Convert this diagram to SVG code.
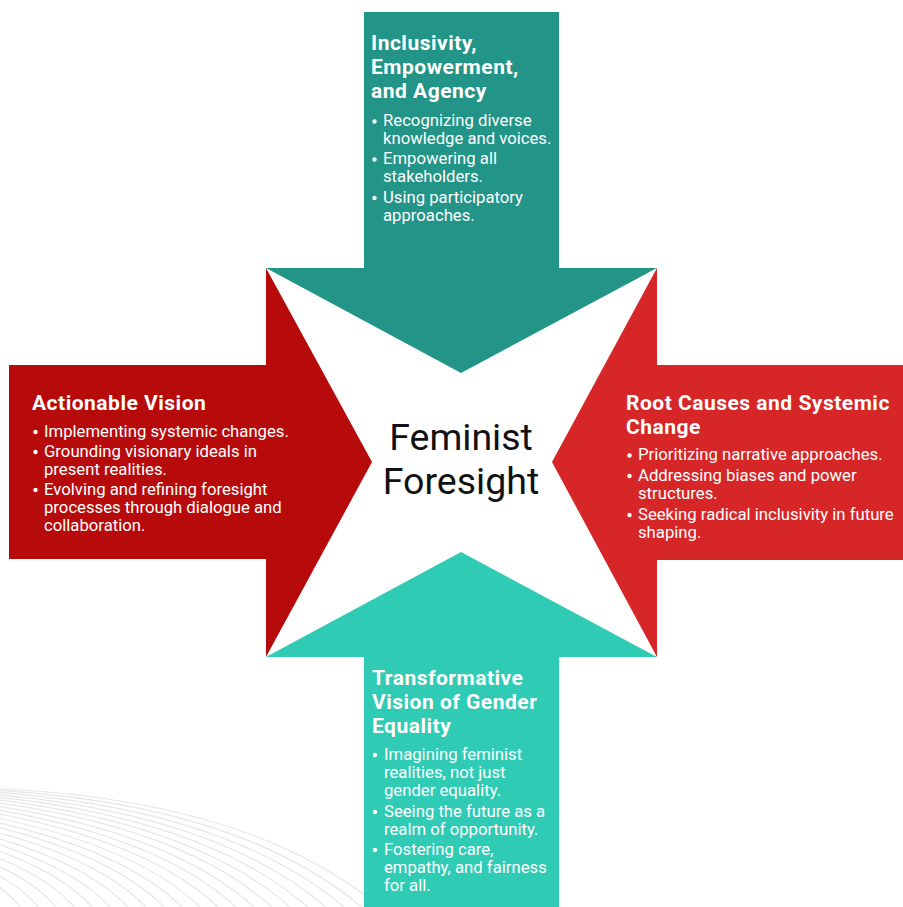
<svg xmlns="http://www.w3.org/2000/svg" width="903" height="907" viewBox="0 0 903 907">
<style>
.bg{fill:none;stroke:#e6e6e6;stroke-width:1.2}
.t{font-family:Roboto,"Liberation Sans",sans-serif;font-size:21px;font-weight:bold;letter-spacing:0.5px;fill:#fff}
.b{font-family:Roboto,"Liberation Sans",sans-serif;font-size:16.7px;fill:#fff}
.c{font-family:Roboto,"Liberation Sans",sans-serif;font-size:37.5px;fill:#111;text-anchor:middle}
.d{fill:#fff}
</style>
<rect width="903" height="907" fill="#fff"/>
<g id="background">
<path class="bg" d="M0 789 Q250 800 380 907"/>
<path class="bg" d="M-15 789.8 Q236 802 362 907"/>
<path class="bg" d="M-30 790.6 Q222 804 344 907"/>
<path class="bg" d="M-45 791.4 Q208 806 326 907"/>
<path class="bg" d="M-60 792.2 Q194 808 308 907"/>
<path class="bg" d="M-75 793 Q180 810 290 907"/>
<path class="bg" d="M-90 793.8 Q166 812 272 907"/>
<path class="bg" d="M-105 794.6 Q152 814 254 907"/>
<path class="bg" d="M-120 795.4 Q138 816 236 907"/>
<path class="bg" d="M-135 796.2 Q124 818 218 907"/>
<path class="bg" d="M-150 797 Q110 820 200 907"/>
<path class="bg" d="M-165 797.8 Q96 822 182 907"/>
<path class="bg" d="M-180 798.6 Q82 824 164 907"/>
<path class="bg" d="M-195 799.4 Q68 826 146 907"/>
<path class="bg" d="M-210 800.2 Q54 828 128 907"/>
<path class="bg" d="M-225 801 Q40 830 110 907"/>
<path class="bg" d="M-240 801.8 Q26 832 92 907"/>
<path class="bg" d="M-255 802.6 Q12 834 74 907"/>
<path class="bg" d="M-270 803.4 Q-2 836 56 907"/>
<path class="bg" d="M-285 804.2 Q-16 838 38 907"/>
<path class="bg" d="M-300 805 Q-30 840 20 907"/>
</g>
<g id="top">
<polygon points="364,12 559,12 559,268 657,268 461,373 266,268 364,268" fill="#229488"/>
<text class="t" x="371" y="50">Inclusivity,</text>
<text class="t" x="371" y="74">Empowerment,</text>
<text class="t" x="371" y="98">and Agency</text>
<circle class="d" cx="374.5" cy="121.5" r="2.2"/>
<text class="b" x="383" y="126">Recognizing diverse</text>
<text class="b" x="383" y="144">knowledge and voices.</text>
<circle class="d" cx="374.5" cy="159.5" r="2.2"/>
<text class="b" x="383" y="164">Empowering all</text>
<text class="b" x="383" y="182">stakeholders.</text>
<circle class="d" cx="374.5" cy="198" r="2.2"/>
<text class="b" x="383" y="203">Using participatory</text>
<text class="b" x="383" y="221">approaches.</text>
</g>
<g id="left">
<polygon points="9,365 266,365 266,268 372,462 266,657 266,559 9,559" fill="#b70b0b"/>
<text class="t" x="32" y="410">Actionable Vision</text>
<circle class="d" cx="35.5" cy="432" r="2.2"/>
<text class="b" x="44" y="437">Implementing systemic changes.</text>
<circle class="d" cx="35.5" cy="452" r="2.2"/>
<text class="b" x="44" y="457">Grounding visionary ideals in</text>
<text class="b" x="44" y="475">present realities.</text>
<circle class="d" cx="35.5" cy="490" r="2.2"/>
<text class="b" x="44" y="495">Evolving and refining foresight</text>
<text class="b" x="44" y="513">processes through dialogue and</text>
<text class="b" x="44" y="531">collaboration.</text>
</g>
<g id="right">
<polygon points="903,365 657,365 657,268 552,462 657,657 657,560 903,560" fill="#d62628"/>
<text class="t" x="626" y="410">Root Causes and Systemic</text>
<text class="t" x="626" y="434">Change</text>
<circle class="d" cx="629.5" cy="455.5" r="2.2"/>
<text class="b" x="638" y="460">Prioritizing narrative approaches.</text>
<circle class="d" cx="629.5" cy="476" r="2.2"/>
<text class="b" x="638" y="481">Addressing biases and power</text>
<text class="b" x="638" y="499">structures.</text>
<circle class="d" cx="629.5" cy="515" r="2.2"/>
<text class="b" x="638" y="520">Seeking radical inclusivity in future</text>
<text class="b" x="638" y="538">shaping.</text>
</g>
<g id="bottom">
<polygon points="364,907 559,907 559,657 657,657 461,552 266,657 364,657" fill="#2fcbb5"/>
<text class="t" x="372" y="685">Transformative</text>
<text class="t" x="372" y="709">Vision of Gender</text>
<text class="t" x="372" y="733">Equality</text>
<circle class="d" cx="375" cy="755" r="2.2"/>
<text class="b" x="384" y="760">Imagining feminist</text>
<text class="b" x="384" y="778">realities, not just</text>
<text class="b" x="384" y="796">gender equality.</text>
<circle class="d" cx="375" cy="812" r="2.2"/>
<text class="b" x="384" y="817">Seeing the future as a</text>
<text class="b" x="384" y="835">realm of opportunity.</text>
<circle class="d" cx="375" cy="850" r="2.2"/>
<text class="b" x="384" y="855">Fostering care,</text>
<text class="b" x="384" y="873">empathy, and fairness</text>
<text class="b" x="384" y="891">for all.</text>
</g>
<g id="center">
<text class="c" x="461" y="450">Feminist</text>
<text class="c" x="461" y="494">Foresight</text>
</g>
<g id="connectors"></g>
</svg>
